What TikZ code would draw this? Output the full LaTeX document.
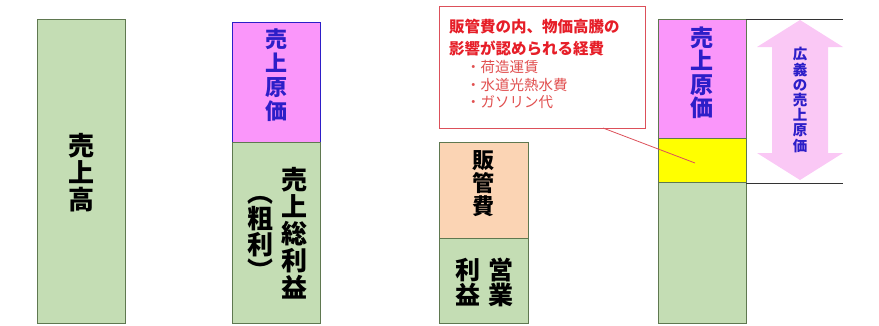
\documentclass[tikz,border=0pt]{standalone}
\usepackage{fontspec}
\setmainfont{Noto Sans CJK JP}
\definecolor{gfill}{RGB}{196,221,180}
\definecolor{gline}{RGB}{95,120,80}
\definecolor{pfill}{RGB}{250,150,250}
\definecolor{ofill}{RGB}{251,212,180}
\definecolor{yfill}{RGB}{255,255,0}
\definecolor{afill}{RGB}{250,200,245}
\definecolor{cline}{RGB}{220,80,90}
\definecolor{tred}{RGB}{230,30,40}
\definecolor{bred}{RGB}{225,80,80}
\definecolor{tblue}{RGB}{45,30,200}
\tikzset{
  bar/.style={draw=gline, line width=0.8pt, anchor=north west, inner sep=0pt, outer sep=0pt},
  vtext/.style={align=center, inner sep=0pt},
}
\begin{document}
\begin{tikzpicture}[x=1pt,y=-1pt]
\useasboundingbox (0,0) rectangle (879,325);
% column 1
\node[bar, fill=gfill, minimum width=88pt, minimum height=304pt] (c1) at (37,19) {};
\node[vtext, font=\bfseries\fontsize{26}{27}\selectfont] (t1) at (81,173) {売\\上\\高};
% column 2
\node[bar, fill=pfill, draw=tblue, minimum width=88pt, minimum height=120pt] (c2a) at (232,22) {};
\node[bar, fill=gfill, minimum width=88pt, minimum height=181pt] (c2b) at (232,142) {};
\node[vtext, text=tblue, font=\bfseries\fontsize{22}{24}\selectfont] (t2a) at (276,75) {売\\上\\原\\価};
\node[vtext, font=\bfseries\fontsize{26}{27}\selectfont] (t2b) at (294.5,233.5) {売\\上\\総\\利\\益};
\node[vtext, font=\bfseries\fontsize{26}{26}\selectfont] (t2c) at (260,238) {︵\\粗\\利\\︶};
% column 3
\node[bar, fill=ofill, minimum width=89pt, minimum height=96pt] (c3a) at (439,142) {};
\node[bar, fill=gfill, minimum width=89pt, minimum height=85pt] (c3b) at (439,238) {};
\node[vtext, font=\bfseries\fontsize{22}{23}\selectfont] (t3a) at (483.5,183.5) {販\\管\\費};
\node[vtext, font=\bfseries\fontsize{25}{25}\selectfont] (t3b) at (500.5,282.5) {営\\業};
\node[vtext, font=\bfseries\fontsize{25}{25}\selectfont] (t3c) at (467.5,282.5) {利\\益};
% column 4
\node[bar, fill=pfill, minimum width=88pt, minimum height=119pt] (c4a) at (658,19) {};
\node[bar, fill=yfill, minimum width=88pt, minimum height=44pt] (c4b) at (658,138) {};
\node[bar, fill=gfill, minimum width=88pt, minimum height=141pt] (c4c) at (658,182) {};
\node[vtext, text=tblue, font=\bfseries\fontsize{23}{23.5}\selectfont] (t4a) at (702,73) {売\\上\\原\\価};
% reference lines
\coordinate (r1) at (843,19);
\coordinate (r2) at (843,183);
\draw[black!80, line width=0.8pt] (c4a.north east) -- (r1);
\draw[black!80, line width=0.8pt] (c4c.north east) ++(0,1) -- (r2);
% double arrow
\fill[afill] (800,20) -- (843,47) -- (828,47) -- (828,153) -- (843,153) -- (800,180)
  -- (757,153) -- (772,153) -- (772,47) -- (757,47) -- cycle;
\node[vtext, text=tblue, font=\bfseries\fontsize{14.5}{15.2}\selectfont] (t4b) at (800,100) {広\\義\\の\\売\\上\\原\\価};
% callout
\node[bar, draw=cline, fill=white, minimum width=206pt, minimum height=122pt] (co) at (439,6) {};
\node[anchor=west, inner sep=0pt, text=tred, font=\bfseries\fontsize{15.5}{16}\selectfont] (l1) at (449,27) {販管費の内、物価高騰の};
\node[anchor=west, inner sep=0pt, text=tred, font=\bfseries\fontsize{15.5}{16}\selectfont] (l2) at (449,48) {影響が認められる経費};
\node[anchor=west, inner sep=0pt, text=bred, font=\fontsize{14.5}{15}\selectfont] (b1) at (466,67) {・荷造運賃};
\node[anchor=west, inner sep=0pt, text=bred, font=\fontsize{14.5}{15}\selectfont] (b2) at (466,85) {・水道光熱水費};
\node[anchor=west, inner sep=0pt, text=bred, font=\fontsize{14.5}{15}\selectfont] (b3) at (466,102) {・ガソリン代};
\coordinate (cp) at (603,128);
\coordinate (ct) at (695,163);
\draw[cline, line width=0.8pt] (cp) -- (ct);
\end{tikzpicture}
\end{document}
